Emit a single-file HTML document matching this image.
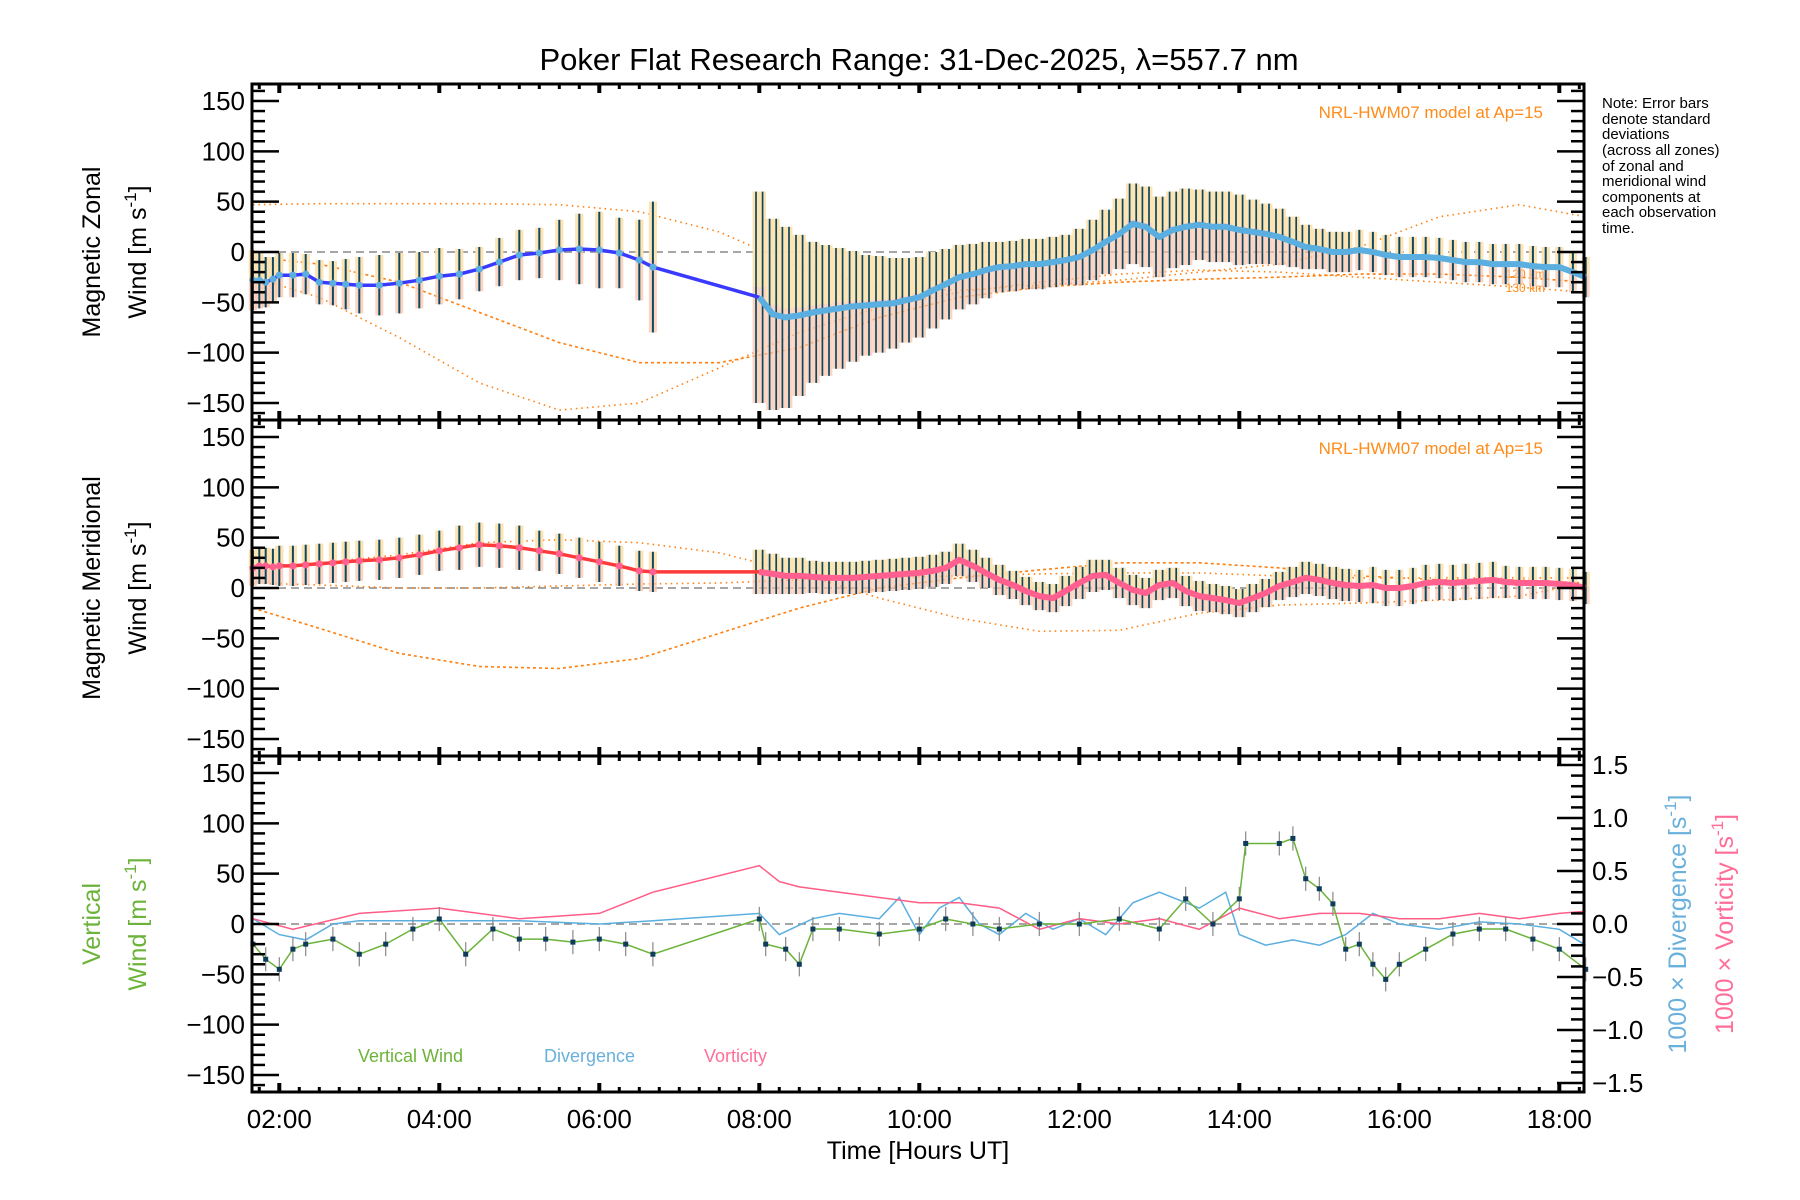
<!DOCTYPE html>
<html><head><meta charset="utf-8">
<style>
html,body{margin:0;padding:0;background:#fff;}
svg{display:block;font-family:"Liberation Sans",sans-serif;}
</style></head>
<body>
<svg id="chart" width="1800" height="1200" viewBox="0 0 1800 1200">
<text x="919" y="70" font-size="31" text-anchor="middle">Poker Flat Research Range: 31-Dec-2025, λ=557.7 nm</text>
<g font-size="15">
<text x="1602" y="108">Note: Error bars</text>
<text x="1602" y="124">denote standard</text>
<text x="1602" y="139">deviations</text>
<text x="1602" y="155">(across all zones)</text>
<text x="1602" y="171">of zonal and</text>
<text x="1602" y="186">meridional wind</text>
<text x="1602" y="202">components at</text>
<text x="1602" y="217">each observation</text>
<text x="1602" y="233">time.</text>
</g>
<text x="1543" y="118" font-size="17" fill="#ff8c1a" text-anchor="end">NRL-HWM07 model at Ap=15</text>
<text x="1543" y="454" font-size="17" fill="#ff8c1a" text-anchor="end">NRL-HWM07 model at Ap=15</text>
<text x="1545" y="278" font-size="12" fill="#ff8c1a" text-anchor="end">120 km</text>
<text x="1545" y="292" font-size="12" fill="#ff8c1a" text-anchor="end">130 km</text>
<text transform="translate(100,252) rotate(-90)" font-size="25" text-anchor="middle">Magnetic Zonal</text>
<text transform="translate(146,252) rotate(-90)" font-size="25" text-anchor="middle">Wind [m s<tspan dy="-10" font-size="17">-1</tspan><tspan dy="10">]</tspan></text>
<text transform="translate(100,588) rotate(-90)" font-size="25" text-anchor="middle">Magnetic Meridional</text>
<text transform="translate(146,588) rotate(-90)" font-size="25" text-anchor="middle">Wind [m s<tspan dy="-10" font-size="17">-1</tspan><tspan dy="10">]</tspan></text>
<text transform="translate(100,924) rotate(-90)" font-size="25" fill="#6cb33a" text-anchor="middle">Vertical</text>
<text transform="translate(146,924) rotate(-90)" font-size="25" fill="#6cb33a" text-anchor="middle">Wind [m s<tspan dy="-10" font-size="17">-1</tspan><tspan dy="10">]</tspan></text>
<text transform="translate(1686,924) rotate(-90)" font-size="25" fill="#6ab0dc" text-anchor="middle">1000 × Divergence [s<tspan dy="-10" font-size="17">-1</tspan><tspan dy="10">]</tspan></text>
<text transform="translate(1733,924) rotate(-90)" font-size="25" fill="#ff6e98" text-anchor="middle">1000 × Vorticity [s<tspan dy="-10" font-size="17">-1</tspan><tspan dy="10">]</tspan></text>
<text x="358" y="1062" font-size="18" fill="#6cb33a">Vertical Wind</text>
<text x="544" y="1062" font-size="18" fill="#6ab0dc">Divergence</text>
<text x="704" y="1062" font-size="18" fill="#ff6e98">Vorticity</text>
<text x="918" y="1159" font-size="25" text-anchor="middle">Time [Hours UT]</text>
</svg>
<script>
// ---- data ----
const xTickHours = [2,4,6,8,10,12,14,16,18];
const xTickLabels = ["02:00","04:00","06:00","08:00","10:00","12:00","14:00","16:00","18:00"];
const yTickValues = [150,100,50,0,-50,-100,-150];
const rTickValues = [1.5,1.0,0.5,0.0,-0.5,-1.0,-1.5];
const sparseTimes = [1.67,1.75,1.83,1.92,2.0,2.17,2.33,2.5,2.67,2.83,3.0,3.25,3.5,3.75,4.0,4.25,4.5,4.75,5.0,5.25,5.5,5.75,6.0,6.25,6.5,6.67];
const denseTimes = [8.0,8.17,8.33,8.5,8.67,8.83,9.0,9.17,9.33,9.5,9.67,9.83,10.0,10.17,10.33,10.5,10.67,10.83,11.0,11.17,11.33,11.5,11.67,11.83,12.0,12.17,12.33,12.5,12.67,12.83,13.0,13.17,13.33,13.5,13.67,13.83,14.0,14.17,14.33,14.5,14.67,14.83,15.0,15.17,15.33,15.5,15.67,15.83,16.0,16.17,16.33,16.5,16.67,16.83,17.0,17.17,17.33,17.5,17.67,17.83,18.0,18.17,18.33];
const zonalSparse = [-28,-28,-30,-27,-23,-23,-22,-30,-31,-32,-33,-33,-31,-28,-24,-22,-17,-10,-3,-1,2,3,2,-1,-8,-15];
const zonalSparseErr = [30,28,25,22,22,22,20,22,22,25,28,30,30,28,28,25,22,24,25,25,30,35,38,35,40,65];
const zonalDense = [-45,-62,-65,-63,-60,-58,-56,-54,-53,-52,-51,-48,-45,-38,-32,-25,-22,-18,-15,-14,-12,-12,-10,-8,-5,2,10,18,28,25,15,22,25,27,25,25,22,20,18,15,10,5,3,0,0,2,0,-3,-5,-5,-5,-6,-8,-10,-10,-12,-12,-12,-14,-15,-15,-20,-25];
const zonalDenseErr = [105,95,90,80,70,65,60,55,50,48,45,42,40,38,35,32,30,28,25,25,25,25,25,25,28,30,32,35,40,40,40,38,38,35,35,35,35,32,30,28,25,22,20,20,20,20,20,20,20,20,20,20,20,20,20,20,20,20,20,20,20,20,20];
const meridSparse = [20,22,22,21,22,22,23,24,25,26,27,28,30,33,37,40,43,42,40,37,34,30,26,22,17,16];
const meridSparseErr = [18,18,18,18,20,20,20,20,20,20,20,20,20,20,20,22,22,22,22,20,20,20,20,20,20,20];
const meridDense = [16,14,12,12,11,10,10,10,11,12,13,14,15,17,20,28,22,15,8,3,-3,-8,-10,-3,5,12,13,5,-2,-5,3,5,-3,-8,-10,-12,-15,-10,-5,2,6,10,8,5,3,2,3,0,0,2,5,6,5,6,7,8,6,5,5,5,4,3,0];
const meridDenseErr = [22,20,18,18,16,16,16,16,16,16,16,16,16,16,16,16,16,15,15,14,14,14,14,15,16,16,15,15,15,15,15,15,15,15,14,14,14,14,14,14,15,16,16,16,16,16,18,18,18,18,18,18,18,18,18,18,16,16,16,16,16,16,16];
const modelTimes = [1.67,2.5,3.5,4.5,5.5,6.5,7.5,8.5,9.5,10.5,11.5,12.5,13.5,14.5,15.5,16.5,17.5,18.33];
const zonalModelA = [47,48,48,48,47,40,20,-15,-35,-38,-33,-28,-20,-12,5,35,47,35];
const zonalModelB = [-5,-12,-30,-60,-90,-110,-110,-95,-65,-45,-35,-30,-27,-25,-22,-22,-25,-30];
const zonalModelC = [-25,-45,-85,-130,-157,-150,-115,-80,-55,-40,-30,-22,-18,-20,-25,-30,-35,-40];
const meridModelA = [20,25,33,45,48,45,35,15,-10,-30,-43,-42,-25,-17,-15,-12,-8,5];
const meridModelB = [-20,-40,-65,-78,-80,-70,-45,-20,0,10,18,25,25,20,12,8,8,5];
const meridModelC = [5,3,0,0,2,4,5,8,10,12,14,15,15,12,10,10,10,10];
const vertTimes = [1.67,1.83,2.0,2.17,2.33,2.67,3.0,3.33,3.67,4.0,4.33,4.67,5.0,5.33,5.67,6.0,6.33,6.67,8.0,8.08,8.33,8.5,8.67,9.0,9.5,10.0,10.33,10.67,11.0,11.5,12.0,12.5,13.0,13.33,13.67,14.0,14.08,14.5,14.67,14.83,15.0,15.17,15.33,15.5,15.67,15.83,16.0,16.33,16.67,17.0,17.33,17.67,18.0,18.33];
const vertWind = [-20,-35,-45,-25,-20,-15,-30,-20,-5,5,-30,-5,-15,-15,-18,-15,-20,-30,5,-20,-25,-40,-5,-5,-10,-5,5,0,-5,0,0,5,-5,25,0,25,80,80,85,45,35,20,-25,-20,-40,-55,-40,-25,-10,-5,-5,-15,-25,-45];
const divTimes = [1.67,2.0,2.33,2.67,3.0,4.0,5.0,6.0,6.67,8.0,8.25,8.67,9.0,9.5,9.75,10.0,10.25,10.5,10.75,11.0,11.33,11.67,12.0,12.33,12.67,13.0,13.5,13.83,14.0,14.33,14.67,15.0,15.33,15.67,16.0,16.5,17.0,17.5,18.0,18.33];
const divergence = [0.05,-0.1,-0.15,0,0.03,0.03,0.03,0,0.03,0.1,-0.1,0.05,0.1,0.05,0.25,-0.1,0.15,0.25,0,-0.1,0.1,-0.05,0.05,-0.1,0.2,0.3,0.15,0.3,-0.1,-0.2,-0.15,-0.2,-0.1,0.1,0,-0.05,0.02,0,-0.05,-0.2];
const vortTimes = [1.67,2.17,3.0,4.0,5.0,6.0,6.67,8.0,8.25,8.5,9.0,9.5,10.0,10.5,11.0,11.5,12.0,12.5,13.0,13.5,14.0,14.5,15.0,15.5,16.0,16.5,17.0,17.5,18.0,18.33];
const vorticity = [0.05,-0.05,0.1,0.15,0.05,0.1,0.3,0.55,0.4,0.35,0.3,0.25,0.2,0.2,0.15,-0.05,0.05,0,0.05,-0.05,0.15,0.05,0.1,0.1,0.05,0.05,0.1,0.05,0.1,0.12];

// ---- axes ----
const L = 252, R = 1584;
const panelTops = [84,420,756];
const PH = 336;
function X(h){ return 279.3 + (h-2)*80; }
function Y(p,v){ return panelTops[p] + PH/2 - v*1.0067; }
function YR(v){ return 924 - v*106; }
const svg = document.getElementById('chart');
const NS = 'http://www.w3.org/2000/svg';
function mk(tag, attrs){ const e=document.createElementNS(NS,tag); for(const k in attrs) e.setAttribute(k,attrs[k]); svg.appendChild(e); return e; }
function pts(ts, vs, fy){ const n=Math.min(ts.length,vs.length); let s=''; for(let i=0;i<n;i++) s+=X(ts[i]).toFixed(1)+','+fy(vs[i]).toFixed(1)+' '; return s; }

for(let p=0;p<3;p++){
  const z = mk('line',{x1:L,x2:R,y1:Y(p,0),y2:Y(p,0),stroke:'#888','stroke-width':1.5,'stroke-dasharray':'8,5'});
  
  
}

function model(p, vs, dash, nm){
  const e = mk('polyline',{points:pts(modelTimes,vs,v=>Y(p,v)),fill:'none',stroke:'#ff7f0e','stroke-width':1.6,'stroke-dasharray':dash});
  
  
}
model(0,zonalModelA,'1.5,4','zonal-model-upper');
model(0,zonalModelB,'3,3','zonal-model-120km');
model(0,zonalModelC,'1.5,4','zonal-model-130km');
model(1,meridModelA,'1.5,4','meridional-model-upper');
model(1,meridModelB,'3,3','meridional-model-lower');
model(1,meridModelC,'1.5,4','meridional-model-mid');

// error bars; during the dense observing period (before 15:30) draw paired strokes per sample
function bars(p, ts, vs, es, w, nm){
  const n=Math.min(ts.length,vs.length,es.length);
  for(let i=0;i<n;i++){
    const x=X(ts[i]), y1=Y(p,vs[i]+es[i]), y2=Y(p,vs[i]-es[i]);
    const denseObs = ts[i]>=8 && ts[i]<15.5;
    const ww = denseObs ? 13.4 : w;
    const r = mk('rect',{x:x-ww/2,y:y1,width:ww,height:y2-y1,fill:'#fbc3a8',opacity:0.7});
    
    
    const r2 = mk('rect',{x:x-ww/2,y:y1,width:ww,height:(y2-y1)*0.45,fill:'#fde6b0',opacity:0.85});
    
    
    const offs = denseObs ? [-3.3,3.3] : [0];
    for(const o of offs){
      const l = mk('line',{x1:x+o,x2:x+o,y1:y1,y2:y2,stroke:'#0e4760','stroke-width':denseObs?1.7:2});
      
      
    }
  }
}
bars(0,sparseTimes,zonalSparse,zonalSparseErr,8,'zonal-error-bar');
bars(0,denseTimes,zonalDense,zonalDenseErr,8,'zonal-error-bar');
bars(1,sparseTimes,meridSparse,meridSparseErr,8,'meridional-error-bar');
bars(1,denseTimes,meridDense,meridDenseErr,8,'meridional-error-bar');

function mean(p, vs1, vs2, col1, col2, nm){
  const e = mk('polyline',{points:pts(sparseTimes,vs1,v=>Y(p,v)) + X(denseTimes[0]).toFixed(1)+','+Y(p,vs2[0]).toFixed(1),fill:'none',stroke:col1,'stroke-width':3.5});
  
  
  const e2 = mk('polyline',{points:pts(denseTimes,vs2,v=>Y(p,v)),fill:'none',stroke:col2,'stroke-width':6,'stroke-linejoin':'round'});
  
  
  for(let i=0;i<Math.min(sparseTimes.length,vs1.length);i++){
    const c = mk('circle',{cx:X(sparseTimes[i]),cy:Y(p,vs1[i]),r:3.5,fill:col2});
    
    
  }
}
mean(0,zonalSparse,zonalDense,'#3a3aff','#5aaee0','zonal-mean-line');
mean(1,meridSparse,meridDense,'#ff3a3a','#ff6090','meridional-mean-line');

const dv = mk('polyline',{points:pts(divTimes,divergence,YR),fill:'none',stroke:'#5aaee0','stroke-width':1.5});


const vo = mk('polyline',{points:pts(vortTimes,vorticity,YR),fill:'none',stroke:'#ff5c86','stroke-width':1.5});


for(let i=0;i<vertTimes.length;i++){
  const eb = mk('line',{x1:X(vertTimes[i]),x2:X(vertTimes[i]),y1:Y(2,vertWind[i]+12),y2:Y(2,vertWind[i]-12),stroke:'#888','stroke-width':1.2});
  
  
}
const vw = mk('polyline',{points:pts(vertTimes,vertWind,v=>Y(2,v)),fill:'none',stroke:'#6cb33a','stroke-width':1.5});


for(let i=0;i<vertTimes.length;i++){
  const s = mk('rect',{x:X(vertTimes[i])-2.5,y:Y(2,vertWind[i])-2.5,width:5,height:5,fill:'#0e3c5a'});
  
  
}

for(let p=0;p<3;p++){
  const t=panelTops[p], b=t+PH;
  const f = mk('rect',{x:L,y:t,width:R-L,height:PH,fill:'none',stroke:'#000','stroke-width':3});
  
  
  for(let h=1.75; h<=18.34; h+=0.25){
    const major = Math.abs(h-Math.round(h))<0.01 && Math.round(h)%2===0;
    const len = major?9:5;
    const tk1 = mk('line',{x1:X(h),x2:X(h),y1:b,y2:b-len,stroke:'#000','stroke-width':major?4:3});
    
    
    const tk2 = mk('line',{x1:X(h),x2:X(h),y1:t,y2:t+len,stroke:'#000','stroke-width':major?4:3});
    
    
  }
  for(let v=-160; v<=160; v+=10){
    const major = v%50===0;
    const len = major?27:13;
    const yl = mk('line',{x1:L,x2:L+len,y1:Y(p,v),y2:Y(p,v),stroke:'#000','stroke-width':2.5});
    
    
    if(p<2){
      const yr = mk('line',{x1:R,x2:R-len,y1:Y(p,v),y2:Y(p,v),stroke:'#000','stroke-width':2.5});
      
      
    }
  }
  for(const v of yTickValues){
    const tx = mk('text',{x:245,y:Y(p,v)+9,'font-size':26,'text-anchor':'end'});
    tx.textContent = (v<0?'−':'')+Math.abs(v);
    
    
  }
}
for(let k=-15;k<=15;k++){
  const v=k/10, major = k%5===0;
  const len = major?27:13;
  const rl = mk('line',{x1:R,x2:R-len,y1:YR(v),y2:YR(v),stroke:'#000','stroke-width':2.5});
  
  
}
for(const v of rTickValues){
  const tx = mk('text',{x:1592,y:YR(v)+9,'font-size':26});
  tx.textContent = (v<0?'−':'')+Math.abs(v).toFixed(1);
  
  
}
for(let i=0;i<xTickHours.length;i++){
  const tx = mk('text',{x:X(xTickHours[i]),y:1128,'font-size':26,'text-anchor':'middle'});
  tx.textContent = xTickLabels[i];
  
  
}
</script>
</body></html>
